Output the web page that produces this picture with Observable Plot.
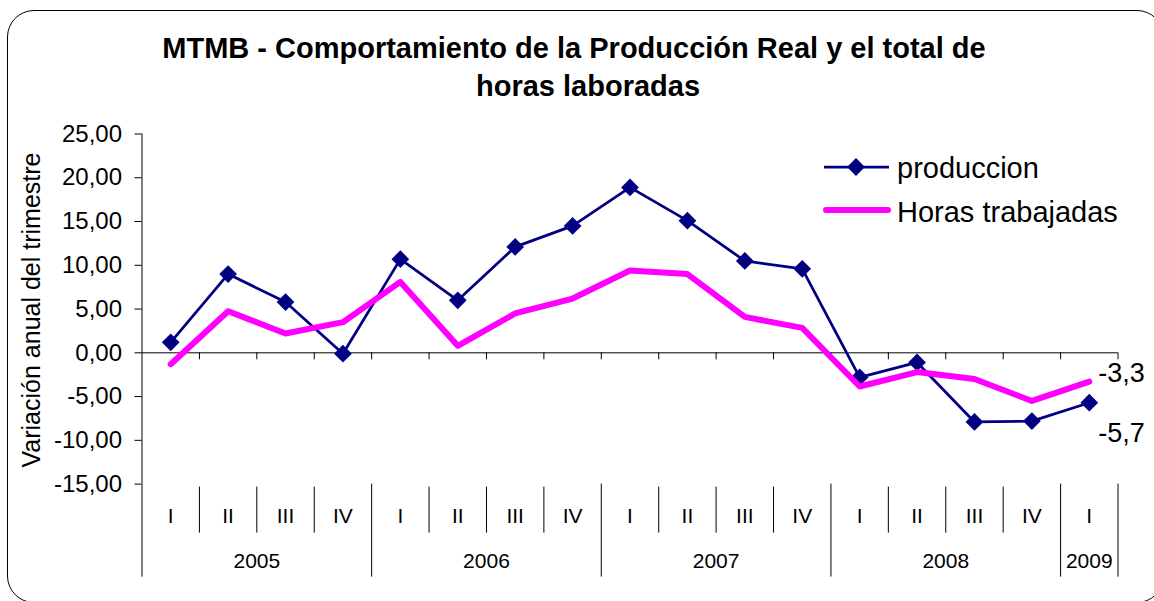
<!DOCTYPE html>
<html><head><meta charset="utf-8">
<script src="https://cdn.jsdelivr.net/npm/d3@7"></script>
<script src="https://cdn.jsdelivr.net/npm/@observablehq/plot@0.6"></script>
<style>
html,body{margin:0;padding:0;background:#fff;overflow:hidden;}
#wrap{position:relative;width:1154px;height:601px;overflow:hidden;background:#fff;}
#border{position:absolute;left:7px;top:10px;width:1155px;height:591px;border:1.5px solid #000;border-radius:27px;pointer-events:none;}
</style></head><body><div id="wrap"><div id="border"></div></div>
<script>
const titleLines = ["MTMB - Comportamiento de la Producción Real y el total de", "horas laboradas"];
const yLabel = "Variación anual del trimestre";
const quarters = ["I","II","III","IV","I","II","III","IV","I","II","III","IV","I","II","III","IV","I"];
const years = ["2005","2006","2007","2008","2009"];
const quartersPerYear = [4,4,4,4,1];
const produccion = [1.2, 9.0, 5.8, -0.1, 10.7, 6.0, 12.1, 14.5, 18.9, 15.1, 10.5, 9.6, -2.8, -1.1, -7.9, -7.8, -5.7];
const horas = [-1.3, 4.75, 2.2, 3.5, 8.1, 0.8, 4.5, 6.2, 9.4, 9.0, 4.1, 2.85, -3.85, -2.2, -3.0, -5.5, -3.3];
const yTicks = [-15, -10, -5, 0, 5, 10, 15, 20, 25];
const seriesNames = ["produccion", "Horas trabajadas"];

const NAVY = "#000080", PINK = "#ff00ff";
const FONT = "'Liberation Sans', Arial, sans-serif";

const data = quarters.map((q, i) => ({pos: i + 0.5, quarter: q, produccion: produccion[i], horas: horas[i]}));
let acc = 0;
const yearData = years.map((y, k) => { const s = acc; acc += quartersPerYear[k]; return {year: y, start: s, end: acc}; });
const yearBounds = [0, ...yearData.map(d => d.end)];
const quarterBounds = d3.range(1, quarters.length).filter(b => !yearBounds.includes(b));
const fmtTick = d => d.toFixed(2).replace(".", ",");
const fmtLabel = d => d.toFixed(1).replace(".", ",");
const last = data[data.length - 1];

const chart = Plot.plot({
  width: 1154, height: 601,
  marginLeft: 141.5, marginRight: 36.5, marginTop: 133.5, marginBottom: 117.4,
  x: {type: "linear", domain: [0, quarters.length], axis: null},
  y: {domain: [-15, 25], axis: null},
  style: {fontFamily: FONT, color: "#000", background: "transparent", overflow: "visible"},
  marks: [
    Plot.ruleY([0], {stroke: "#000", strokeWidth: 1}),
    Plot.ruleX([0], {stroke: "#000", strokeWidth: 1}),
    Plot.ruleX(d3.range(1, quarters.length + 1), {x: d => d, y1: 0, y2: -0.8, stroke: "#000"}),
    Plot.axisY(yTicks, {anchor: "left", tickSize: 7, tickPadding: 13, tickFormat: fmtTick, fontSize: 24, label: null, stroke: "#000"}),
    Plot.axisX(quarterBounds, {anchor: "bottom", tickSize: 46, dy: 3, tickFormat: () => "", label: null, stroke: "#000"}),
    Plot.axisX(yearBounds, {anchor: "bottom", tickSize: 93, tickFormat: () => "", label: null, stroke: "#000"}),
    Plot.text(data, {x: "pos", text: "quarter", frameAnchor: "bottom", lineAnchor: "middle", dy: 32, fontSize: 21}),
    Plot.text(yearData, {x: d => (d.start + d.end) / 2, text: "year", frameAnchor: "bottom", lineAnchor: "middle", dy: 77, fontSize: 21}),
    Plot.line(data, {x: "pos", y: "produccion", stroke: NAVY, strokeWidth: 2.75}),
    Plot.dot(data, {x: "pos", y: "produccion", symbol: "diamond2", r: 8, fill: NAVY}),
    Plot.line(data, {x: "pos", y: "horas", stroke: PINK, strokeWidth: 6}),
    Plot.text([last], {x: "pos", y: "horas", text: d => fmtLabel(d.horas), textAnchor: "start", dx: 9, dy: -8, fontSize: 27}),
    Plot.text([last], {x: "pos", y: "produccion", text: d => fmtLabel(d.produccion), textAnchor: "start", dx: 9, dy: 31, fontSize: 27})
  ]
});

const svg = d3.select(chart);
// title
svg.append("text").attr("x", 574).attr("y", 58).attr("text-anchor", "middle")
  .attr("font-family", FONT).attr("font-weight", "bold").attr("font-size", 29).attr("fill", "#000").text(titleLines[0]);
svg.append("text").attr("x", 588).attr("y", 96).attr("text-anchor", "middle")
  .attr("font-family", FONT).attr("font-weight", "bold").attr("font-size", 29).attr("fill", "#000").text(titleLines[1]);
// y label
svg.append("text").attr("transform", "translate(40,310) rotate(-90)").attr("text-anchor", "middle")
  .attr("font-family", FONT).attr("font-size", 25).attr("fill", "#000").text(yLabel);
// legend
const lg = svg.append("g").attr("font-family", FONT).attr("font-size", 29).attr("fill", "#000").attr("text-anchor", "start");
lg.append("line").attr("x1", 824).attr("x2", 889).attr("y1", 167).attr("y2", 167).attr("stroke", NAVY).attr("stroke-width", 2.75);
lg.append("path").attr("d", d3.symbol(d3.symbolDiamond2, 64 * Math.PI)()).attr("transform", "translate(856,167)").attr("fill", NAVY);
lg.append("text").attr("x", 897).attr("y", 178).attr("text-anchor", "start").text(seriesNames[0]);
lg.append("line").attr("x1", 826).attr("x2", 888).attr("y1", 210).attr("y2", 210).attr("stroke", PINK).attr("stroke-width", 6).attr("stroke-linecap", "round");
lg.append("text").attr("x", 897).attr("y", 222).attr("text-anchor", "start").text(seriesNames[1]);

const wrap = document.getElementById("wrap");
wrap.insertBefore(chart, wrap.firstChild);
chart.style.position = "absolute";
chart.style.left = "0"; chart.style.top = "0";
</script>
</body></html>
